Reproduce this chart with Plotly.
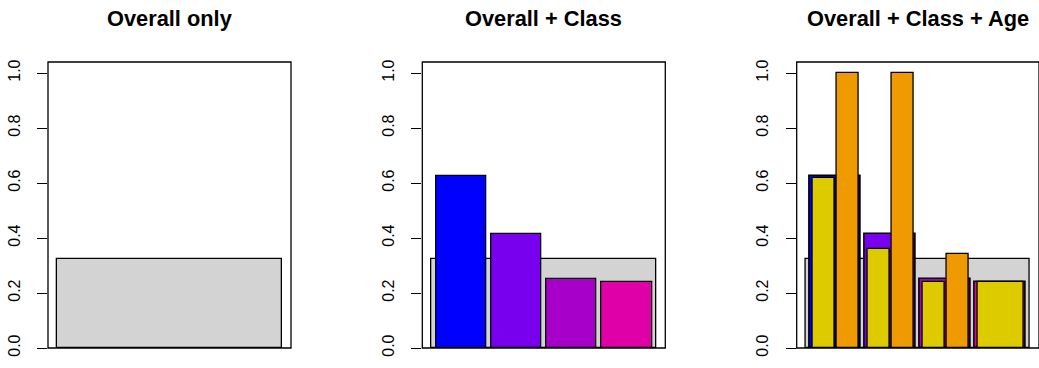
import plotly.graph_objects as go

# Titanic survival rates
overall_rate = 0.323
classes = ["1st", "2nd", "3rd", "Crew"]
class_rate = [0.625, 0.414, 0.252, 0.240]
adult_rate = [0.617, 0.360, 0.241, 0.240]
child_rate = [1.0, 1.0, 0.342, None]   # no children among the crew

titles = ["Overall only", "Overall + Class", "Overall + Class + Age"]

class_colors = ["#0000FF", "#7800EE", "#A700C8", "#E000A8"]
adult_color = "#DDCB00"
child_color = "#EE9A00"
overall_color = "#D3D3D3"

W, H = 1039, 368
FONT = "Liberation Sans, Arial, Helvetica, sans-serif"

# bar layout in axis units (R barplot style: one bar of width 1 starting at 0.2)
X0, X1 = 0.2, 1.2
XRANGE = [0.16, 1.24]
CLASS_GAP = 0.02
AGE_GAP = 0.01


def split(left, right, n, gap):
    """Split [left, right] into n bars separated by gap; return centers and width."""
    w = (right - left - (n + 1) * gap) / n
    centers = [left + gap + w / 2 + i * (w + gap) for i in range(n)]
    return centers, w


fig = go.Figure()

# panel boxes (pixel positions of the plotting regions)
box_left = [48.0, 422.3, 796.7]
box_w = 243.0
y_bottom_px, y_top_px = 348.0, 62.0


def bar(axis, x, y, width, color, lw=1.3):
    fig.add_trace(go.Bar(
        x=[x], y=[y], width=[width], base=0,
        marker=dict(color=color, line=dict(color="black", width=lw)),
        xaxis="x" + axis, yaxis="y" + axis,
        hoverinfo="skip", showlegend=False,
    ))


class_centers, class_w = split(X0, X1, len(classes), CLASS_GAP)

for p in range(3):
    ax = "" if p == 0 else str(p + 1)
    # overall bar
    bar(ax, (X0 + X1) / 2, overall_rate, X1 - X0, overall_color)
    if p >= 1:
        for i, r in enumerate(class_rate):
            bar(ax, class_centers[i], r, class_w, class_colors[i], 1.6 if p == 2 else 1.3)
    if p == 2:
        for i in range(len(classes)):
            left = class_centers[i] - class_w / 2
            right = class_centers[i] + class_w / 2
            rates = [adult_rate[i]] + ([child_rate[i]] if child_rate[i] is not None else [])
            cols = [adult_color, child_color]
            cs, w = split(left, right, len(rates), AGE_GAP)
            for j, r in enumerate(rates):
                bar(ax, cs[j], r, w, cols[j])

layout = dict(
    width=W, height=H,
    margin=dict(l=0, r=0, t=0, b=0, autoexpand=False),
    paper_bgcolor="white", plot_bgcolor="white",
    barmode="overlay", bargap=0,
    showlegend=False,
    font=dict(family=FONT, color="black"),
)

ydom = [1 - y_bottom_px / H, 1 - y_top_px / H]
shapes = []
annotations = []
for p in range(3):
    sfx = "" if p == 0 else str(p + 1)
    x0 = box_left[p] / W
    x1 = min((box_left[p] + box_w) / W, 1.0)
    layout["xaxis" + sfx] = dict(
        domain=[x0, x1], range=XRANGE, visible=False, fixedrange=True,
        anchor="y" + sfx, automargin=False,
    )
    layout["yaxis" + sfx] = dict(
        domain=ydom, range=[0, 1.04], anchor="x" + sfx, automargin=False,
        tickvals=[0, 0.2, 0.4, 0.6, 0.8, 1.0],
        ticktext=["0.0", "0.2", "0.4", "0.6", "0.8", "1.0"],
        tickangle=-90, ticks="outside", ticklen=10, tickwidth=1.2,
        tickcolor="black", ticklabelstandoff=11,
        tickfont=dict(family=FONT, size=16, color="black"),
        showgrid=False, zeroline=False, showline=False, fixedrange=True,
    )
    shapes.append(dict(
        type="rect", xref="x" + sfx + " domain", yref="y" + sfx + " domain",
        x0=0, x1=1, y0=0, y1=1, line=dict(color="black", width=1.3),
        fillcolor="rgba(0,0,0,0)", layer="above",
    ))
    annotations.append(dict(
        text="<b>" + titles[p] + "</b>", xref="paper", yref="paper",
        x=(box_left[p] + box_w / 2) / W, y=1 - 18 / H,
        xanchor="center", yanchor="middle", showarrow=False,
        font=dict(family=FONT, size=21.8, color="black"),
    ))

layout["shapes"] = shapes
layout["annotations"] = annotations
fig.update_layout(**layout)

fig.write_html("out.html")
